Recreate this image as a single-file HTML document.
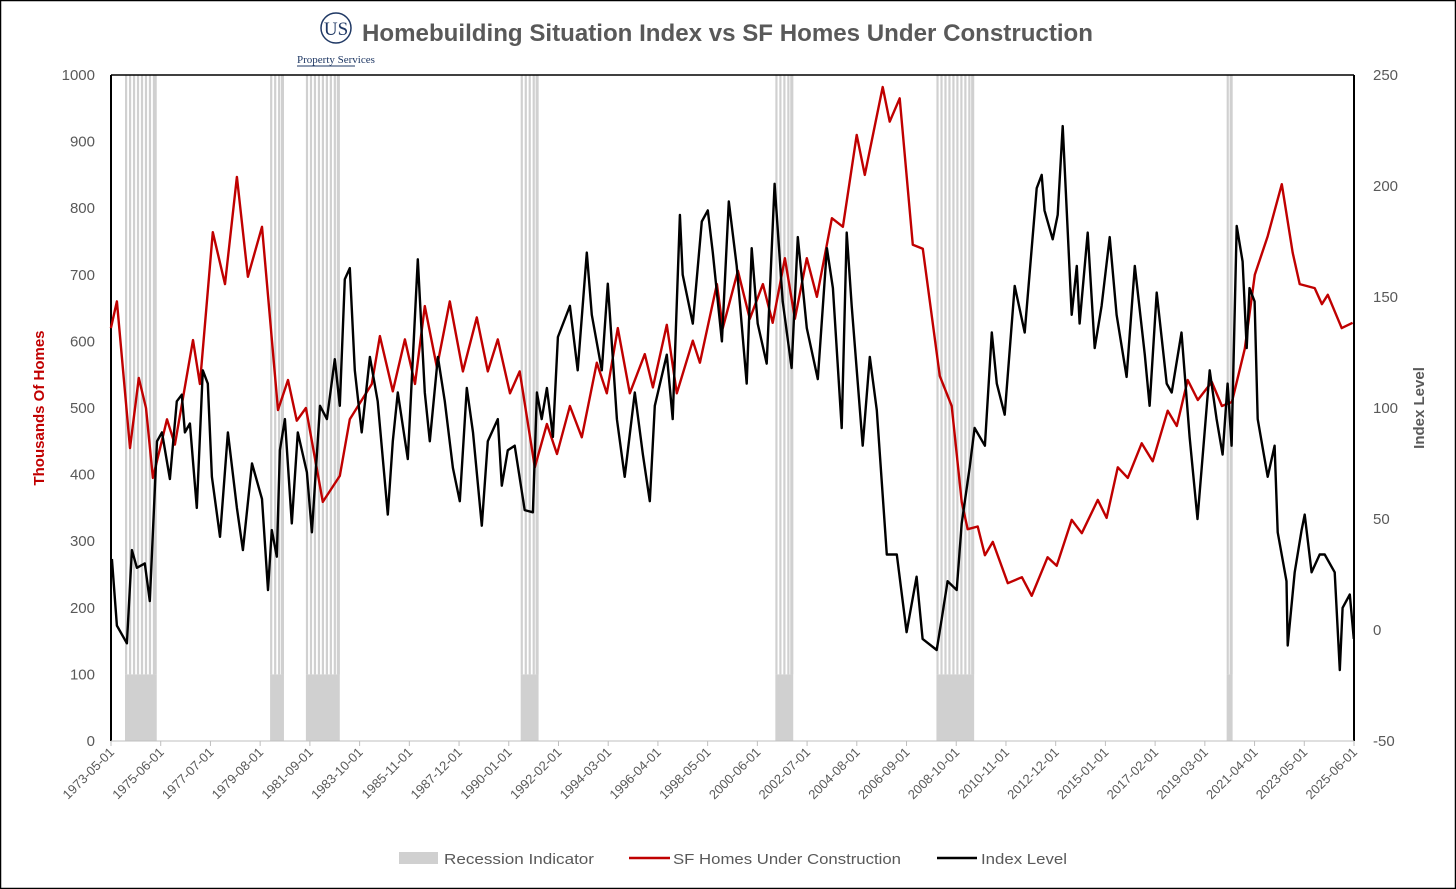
<!DOCTYPE html>
<html><head><meta charset="utf-8"><style>
body{margin:0;background:#fff;}
svg{display:block;font-family:"Liberation Sans",sans-serif;}
</style></head><body>
<svg id="chart" width="1456" height="889" viewBox="0 0 1456 889">
<rect x="0.5" y="0.5" width="1455" height="888" fill="#fff" stroke="#000" stroke-width="1.5"/>
<g>
<circle cx="336" cy="28" r="15" fill="#fff" stroke="#1f3864" stroke-width="1.5"/>
<text x="336" y="35" text-anchor="middle" font-family="Liberation Serif,serif" font-size="19" fill="#1f3864">US</text>
<text x="297" y="63" font-family="Liberation Serif,serif" font-size="11" fill="#1f3864">Property Services</text>
<line x1="297" y1="66" x2="355" y2="66" stroke="#1f3864" stroke-width="1"/>
</g>
<text x="362" y="41" font-size="24" font-weight="bold" fill="#595959" textLength="731" lengthAdjust="spacingAndGlyphs">Homebuilding Situation Index vs SF Homes Under Construction</text>
<g id="rec"></g>
<g id="axes"></g>
<path id="redLine" fill="none" stroke="#c00000" stroke-width="2.4" stroke-linejoin="round"/>
<path id="blackLine" fill="none" stroke="#000" stroke-width="2.4" stroke-linejoin="round"/>
<text transform="translate(44,408) rotate(-90)" text-anchor="middle" font-size="15" font-weight="bold" fill="#c00000">Thousands Of Homes</text>
<text transform="translate(1424,408) rotate(-90)" text-anchor="middle" font-size="15" font-weight="bold" fill="#595959">Index Level</text>
<g>
<g><rect x="399" y="852" width="39" height="12" fill="#d0d0d0"/><text x="444" y="864" font-size="15" fill="#595959" textLength="150" lengthAdjust="spacingAndGlyphs">Recession Indicator</text></g>
<g><line x1="629" y1="858" x2="670" y2="858" stroke="#c00000" stroke-width="2.6"/><text x="673" y="864" font-size="15" fill="#595959" textLength="228" lengthAdjust="spacingAndGlyphs">SF Homes Under Construction</text></g>
<g><line x1="937" y1="858" x2="977" y2="858" stroke="#000" stroke-width="2.6"/><text x="981" y="864" font-size="15" fill="#595959" textLength="86" lengthAdjust="spacingAndGlyphs">Index Level</text></g>
</g>
</svg>
<script>
const redDates=[1973.33,1973.58,1974.13,1974.50,1974.80,1975.09,1975.68,1976.01,1976.77,1977.06,1977.60,1978.11,1978.61,1979.07,1979.66,1980.33,1980.75,1981.12,1981.50,1982.21,1982.92,1983.34,1984.26,1984.60,1985.14,1985.65,1986.07,1986.48,1986.99,1987.53,1988.08,1988.66,1989.12,1989.54,1990.05,1990.46,1991.09,1991.60,1992.02,1992.56,1993.06,1993.69,1994.11,1994.57,1995.07,1995.70,1996.04,1996.62,1997.04,1997.71,1998.01,1998.72,1998.97,1999.60,2000.10,2000.65,2001.06,2001.57,2001.99,2002.49,2002.91,2003.54,2004.00,2004.58,2004.92,2005.67,2005.96,2006.38,2006.93,2007.35,2008.06,2008.56,2008.98,2009.23,2009.65,2009.95,2010.28,2010.91,2011.50,2011.91,2012.58,2012.96,2013.59,2014.01,2014.68,2015.05,2015.52,2015.94,2016.52,2016.98,2017.61,2017.99,2018.45,2018.87,2019.46,2019.88,2020.30,2020.84,2021.26,2021.80,2022.39,2022.85,2023.14,2023.77,2024.07,2024.32,2024.90,2025.36];
const redValues=[620,660,440,545,500,395,483,445,602,536,764,686,847,697,772,497,542,481,500,359,398,483,536,608,525,603,536,653,561,660,555,636,555,603,522,555,411,476,431,503,456,568,522,620,522,581,531,625,522,601,568,686,620,706,634,686,628,725,634,725,667,785,772,910,850,982,930,965,745,739,548,503,359,318,322,279,299,237,246,218,276,263,332,312,362,335,411,395,447,420,496,473,542,512,539,503,509,589,700,758,836,733,686,680,656,670,620,628];
const blackDates=[1973.37,1973.58,1974.00,1974.21,1974.42,1974.75,1974.96,1975.26,1975.47,1975.80,1976.09,1976.30,1976.43,1976.64,1976.93,1977.18,1977.39,1977.56,1977.90,1978.23,1978.61,1978.86,1979.24,1979.66,1979.91,1980.07,1980.28,1980.41,1980.62,1980.91,1981.16,1981.54,1981.75,1982.09,1982.38,1982.71,1982.92,1983.13,1983.34,1983.55,1983.84,1984.18,1984.51,1984.93,1985.14,1985.35,1985.77,1986.19,1986.48,1986.69,1987.03,1987.32,1987.66,1987.95,1988.24,1988.50,1988.87,1989.12,1989.54,1989.71,1989.96,1990.25,1990.67,1991.01,1991.18,1991.38,1991.60,1991.85,1992.06,1992.56,1992.89,1993.27,1993.48,1993.90,1994.15,1994.53,1994.86,1995.28,1995.62,1995.91,1996.12,1996.62,1996.87,1997.17,1997.29,1997.71,1998.09,1998.34,1998.55,1998.93,1999.22,1999.55,1999.97,2000.18,2000.43,2000.81,2001.14,2001.48,2001.85,2002.11,2002.49,2002.95,2003.33,2003.58,2003.95,2004.16,2004.37,2004.83,2005.13,2005.42,2005.84,2006.26,2006.67,2007.09,2007.34,2007.93,2008.14,2008.39,2008.77,2008.98,2009.31,2009.52,2009.95,2010.24,2010.45,2010.78,2011.20,2011.62,2012.12,2012.33,2012.45,2012.79,2013.00,2013.21,2013.59,2013.80,2013.92,2014.26,2014.55,2014.84,2015.18,2015.47,2015.89,2016.23,2016.65,2016.85,2017.15,2017.57,2017.78,2018.19,2018.53,2018.86,2019.37,2019.66,2019.91,2020.12,2020.29,2020.50,2020.75,2020.92,2021.04,2021.25,2021.38,2021.80,2022.09,2022.22,2022.59,2022.64,2022.93,2023.22,2023.35,2023.64,2023.98,2024.19,2024.61,2024.82,2024.94,2025.24,2025.41];
const blackValues=[32,2,-6,36,28,30,13,85,89,68,103,106,89,93,55,117,111,69,42,89,55,36,75,59,18,45,33,81,95,48,89,71,44,101,95,122,101,158,163,117,89,123,103,52,85,107,77,167,107,85,123,103,73,58,109,89,47,85,95,65,81,83,54,53,107,95,109,87,132,146,117,170,142,117,156,95,69,107,79,58,101,124,95,187,160,138,184,189,170,130,193,164,111,172,138,120,201,148,118,177,136,113,172,154,91,179,146,83,123,99,34,34,-1,24,-4,-9,5,22,18,48,73,91,83,134,111,97,155,134,199,205,189,176,187,227,142,164,138,179,127,146,177,142,114,164,124,101,152,111,107,134,87,50,117,95,79,111,83,182,166,127,154,148,95,69,83,44,22,-7,26,45,52,26,34,34,26,-18,10,16,-4];
const recStart=[1973.92,1980.0,1981.5,1990.5,2001.17,2007.92,2020.08];
const recEnd=[1975.25,1980.58,1982.92,1991.25,2001.92,2009.5,2020.33];
const leftTicks=[0,100,200,300,400,500,600,700,800,900,1000];
const rightTicks=[-50,0,50,100,150,200,250];
const xTickLabels=["1973-05-01","1975-06-01","1977-07-01","1979-08-01","1981-09-01","1983-10-01","1985-11-01","1987-12-01","1990-01-01","1992-02-01","1994-03-01","1996-04-01","1998-05-01","2000-06-01","2002-07-01","2004-08-01","2006-09-01","2008-10-01","2010-11-01","2012-12-01","2015-01-01","2017-02-01","2019-03-01","2021-04-01","2023-05-01","2025-06-01"];

const NS="http://www.w3.org/2000/svg";
const L=111,R=1354,T=75,B=741;
const X0=1973+4/12, X1=2025+5/12;
function xs(yr){return L+(yr-X0)/(X1-X0)*(R-L);}
function yl(v){return B-v/1000*(B-T);}
function yr(v){return B-(v+50)/300*(B-T);}
function mk(tag,attrs,parent){const e=document.createElementNS(NS,tag);for(const k in attrs)e.setAttribute(k,attrs[k]);parent.appendChild(e);return e;}

const rec=document.getElementById('rec');
for(let i=0;i<recStart.length;i++){
  const x1=xs(recStart[i]),x2=xs(recEnd[i]);
  const box=mk('rect',{x:x1,y:yl(100),width:x2-x1,height:yl(0)-yl(100),fill:'#d0d0d0'},rec);
  
  
  for(let m=recStart[i];m<recEnd[i]-0.01;m+=2/12){
    const s=mk('rect',{x:xs(m),y:T,width:Math.min(xs(m+1.1/12),x2)-xs(m),height:yl(100)-T,fill:'#d0d0d0'},rec);
    
    
  }
  const e=mk('rect',{x:x2-3,y:T,width:3,height:yl(100)-T,fill:'#d0d0d0'},rec);
  
  
}

const ax=document.getElementById('axes');
mk('line',{x1:L,y1:T,x2:L,y2:B,stroke:'#000','stroke-width':2},ax);
mk('line',{x1:R,y1:T,x2:R,y2:B,stroke:'#000','stroke-width':2},ax);
mk('line',{x1:L,y1:T,x2:R,y2:T,stroke:'#000','stroke-width':1.5},ax);
mk('line',{x1:L,y1:B,x2:R,y2:B,stroke:'#bfbfbf','stroke-width':1},ax);
leftTicks.forEach(v=>{
  const t=mk('text',{x:95,y:yl(v)+5,'text-anchor':'end','font-size':15,fill:'#595959'},ax);t.textContent=v;
  
  
});
rightTicks.forEach(v=>{
  const t=mk('text',{x:1373,y:yr(v)+5,'text-anchor':'start','font-size':15,fill:'#595959'},ax);t.textContent=v;
  
  
});
xTickLabels.forEach((s,i)=>{
  const yy=+s.slice(0,4)+(+s.slice(5,7)-1)/12;
  const x=xs(yy);
  mk('line',{x1:x,y1:B,x2:x,y2:B+5,stroke:'#bfbfbf'},ax);
  const t=mk('text',{transform:`translate(${x+4},${B+12}) rotate(-45)`,'text-anchor':'end','font-size':13,fill:'#595959'},ax);t.textContent=s;
  
  
});

document.getElementById('redLine').setAttribute('d',redDates.map((d,i)=>(i?'L':'M')+xs(d).toFixed(1)+','+yl(redValues[i]).toFixed(1)).join(''));
document.getElementById('blackLine').setAttribute('d',blackDates.map((d,i)=>(i?'L':'M')+xs(d).toFixed(1)+','+yr(blackValues[i]).toFixed(1)).join(''));
</script>
</body></html>
